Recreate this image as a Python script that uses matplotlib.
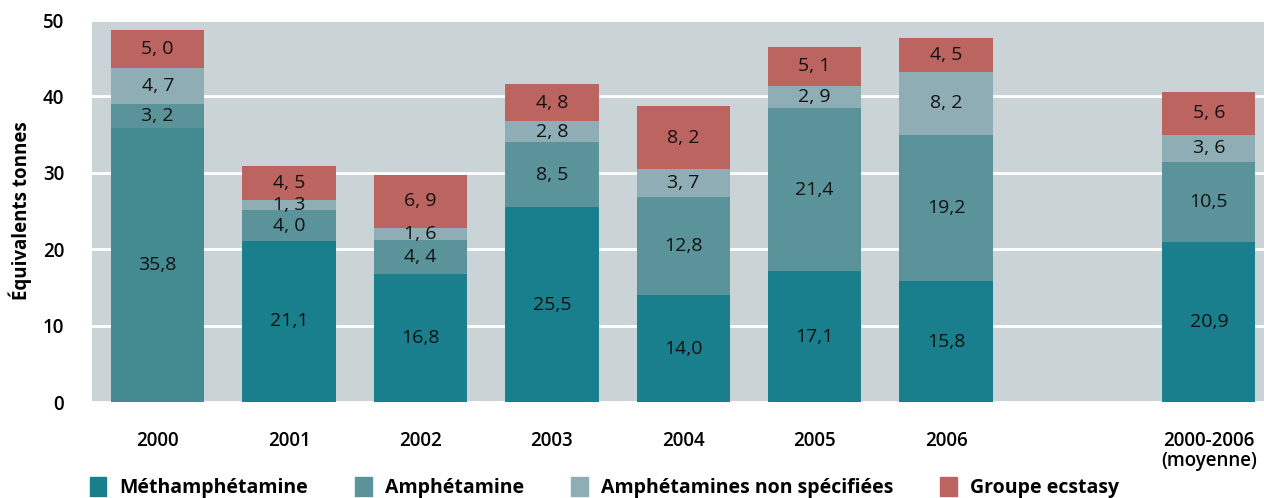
import matplotlib
matplotlib.use("Agg")
import matplotlib.pyplot as plt
from matplotlib.patches import Patch
import numpy as np

plt.rcParams['font.family'] = ['Open Sans', 'DejaVu Sans']

categories = ["2000", "2001", "2002", "2003", "2004", "2005", "2006", "2000-2006\n(moyenne)"]
positions = [0, 1, 2, 3, 4, 5, 6, 8]
# 2000: methamphetamine and amphetamine combined
combined = [35.8, 0, 0, 0, 0, 0, 0, 0]
metham = [0, 21.1, 16.8, 25.5, 14.0, 17.1, 15.8, 20.9]
amph = [3.2, 4.0, 4.4, 8.5, 12.8, 21.4, 19.2, 10.5]
nonspec = [4.7, 1.3, 1.6, 2.8, 3.7, 2.9, 8.2, 3.6]
ecstasy = [5.0, 4.5, 6.9, 4.8, 8.2, 5.1, 4.5, 5.6]
legend_labels = ["Méthamphétamine", "Amphétamine", "Amphétamines non spécifiées", "Groupe ecstasy"]

col_comb = "#438a91"
col_meth = "#1a7f8c"
col_amph = "#5b939b"
col_non = "#8fadb4"
col_ecs = "#bb6460"

def fmt(v):
    s = f"{v:.1f}".replace(".", ",")
    if v < 10:
        s = s.replace(",", ", ")
    return s

fig = plt.figure(figsize=(12.64, 4.98), dpi=100)
ax = fig.add_axes([92/1264, 1-402/498, 1-92/1264, 382/498])
ax.set_facecolor("#cad4d7")
for s in ax.spines.values():
    s.set_visible(False)

w = 0.71
bottom = np.zeros(len(positions))
for vals, col in [(combined, col_comb), (metham, col_meth), (amph, col_amph), (nonspec, col_non), (ecstasy, col_ecs)]:
    vals = np.array(vals)
    ax.bar(positions, vals, w, bottom=bottom, color=col, zorder=3, linewidth=0)
    for p, b, v in zip(positions, bottom, vals):
        if v > 0:
            ax.text(p, b + v/2, fmt(v), ha="center", va="center", fontsize=14, color="#111111", zorder=4)
    bottom = bottom + vals

ax.set_ylim(0, 50)
ax.set_xlim(-0.5, 8.42)
ax.set_yticks([0, 10, 20, 30, 40, 50])
ax.yaxis.grid(True, color="white", linewidth=2, zorder=1)
ax.tick_params(axis="both", length=0, labelsize=13.5)
ax.tick_params(axis="y", pad=20)
ax.set_xticks(positions)
ax.set_xticklabels(categories, fontsize=13.5, linespacing=1.0)
ax.tick_params(axis="x", pad=21)
for lab in ax.get_yticklabels() + ax.get_xticklabels():
    lab.set_fontweight("semibold")
ax.set_ylabel("Équivalents tonnes", fontsize=13.5, fontweight="bold", labelpad=8)

handles = [Patch(color=c) for c in [col_meth, col_amph, col_non, col_ecs]]
leg = fig.legend(handles, legend_labels, loc="lower left", bbox_to_anchor=(72/1264, -0.035), ncol=4,
                 frameon=False, prop={"weight": "bold", "size": 14}, handlelength=0.85, handleheight=1.1,
                 columnspacing=2.4, handletextpad=0.7)

fig.savefig("out.png", dpi=100, facecolor="white")
